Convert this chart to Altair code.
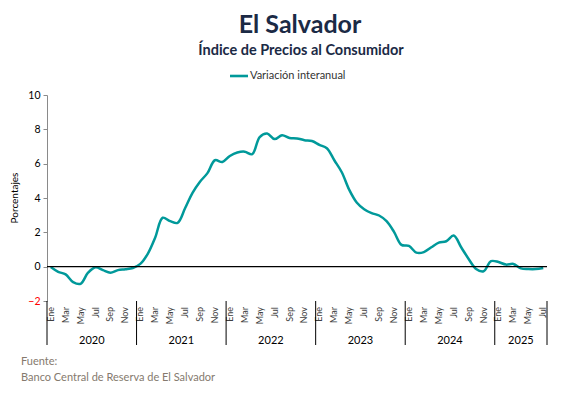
import altair as alt
import pandas as pd

# ---------------- data ----------------
years = [2020, 2021, 2022, 2023, 2024, 2025]
months = ["Ene", "Feb", "Mar", "Abr", "May", "Jun", "Jul", "Ago", "Sep", "Oct", "Nov", "Dic"]
tick_months = ["Ene", "Mar", "May", "Jul", "Sep", "Nov"]

v2020 = [-0.02, -0.30, -0.45, -0.90, -1.00, -0.35, -0.03, -0.20, -0.35, -0.20, -0.15, -0.08]
v2021 = [0.16, 0.75, 1.70, 2.85, 2.65, 2.55, 3.40, 4.30, 4.95, 5.45, 6.20, 6.10]
v2022 = [6.45, 6.65, 6.70, 6.55, 7.55, 7.76, 7.43, 7.66, 7.50, 7.47, 7.37, 7.32]
v2023 = [7.10, 6.90, 6.20, 5.50, 4.48, 3.74, 3.35, 3.12, 2.98, 2.65, 2.03, 1.27]
v2024 = [1.21, 0.82, 0.85, 1.13, 1.40, 1.48, 1.81, 1.13, 0.45, -0.13, -0.27, 0.32]
v2025 = [0.27, 0.12, 0.16, -0.10, -0.14, -0.14, -0.08]

series_name = "Variación interanual"
y_ticks = [-2, 0, 2, 4, 6, 8, 10]

# ---------------- tables ----------------
all_vals = v2020 + v2021 + v2022 + v2023 + v2024 + v2025
rows = []
for i, v in enumerate(all_vals):
    rows.append({"idx": i, "year": years[i // 12], "month": months[i % 12], "value": v})
df = pd.DataFrame(rows)
n = len(df)

lab = df[df["month"].isin(tick_months)][["idx", "month"]]

yr_rows = []
for k, y in enumerate(years):
    first = k * 12
    last = min(first + 11, n - 1)
    yr_rows.append({"year": str(y), "center": (first + last) / 2})
yr_df = pd.DataFrame(yr_rows)

sep_df = pd.DataFrame({"b": [k * 12 - 0.5 for k in range(len(years))] + [n - 0.5]})

W, H = 500, 206
FONT = "Lato"
TEAL = "#00999a"

xscale = alt.Scale(domain=[-0.5, n - 0.5], nice=False, zero=False)
yscale = alt.Scale(domain=[-2, 10], nice=False)

yaxis = alt.Axis(
    values=y_ticks,
    tickCount=len(y_ticks),
    title=None,
    grid=False,
    labelOverlap=False,
    domainColor="#8a8a8a",
    tickColor="#8a8a8a",
    tickSize=4,
    labelPadding=3,
    labelFont=FONT,
    labelFontSize=10.5,
    labelColor={"condition": {"test": "datum.value < 0", "value": "#ff0000"}, "value": "#000000"},
)

line = alt.Chart(df).mark_line(color=TEAL, strokeWidth=2.5, interpolate="catmull-rom").encode(
    x=alt.X("idx:Q", scale=xscale, axis=None),
    y=alt.Y("value:Q", scale=yscale, axis=yaxis),
)

zero = alt.Chart(pd.DataFrame({"value": [0]})).mark_rule(color="#000000", strokeWidth=1.3).encode(
    y=alt.Y("value:Q", scale=yscale, axis=yaxis)
)

month_txt = alt.Chart(lab).mark_text(
    angle=270, align="right", baseline="middle", font=FONT, fontSize=9, color="#404040"
).encode(x=alt.X("idx:Q", scale=xscale, axis=None), y=alt.value(H + 6), text="month:N")

year_txt = alt.Chart(yr_df).mark_text(
    align="center", baseline="alphabetic", font=FONT, fontSize=11, color="#000000"
).encode(x=alt.X("center:Q", scale=xscale, axis=None), y=alt.value(H + 43), text="year:N")

seps = alt.Chart(sep_df).mark_rule(color="#000000", strokeWidth=1).encode(
    x=alt.X("b:Q", scale=xscale, axis=None), y=alt.value(H), y2=alt.value(H + 44)
)

deco = pd.DataFrame({"t": [0]})
title = alt.Chart(deco).mark_text(
    text="El Salvador", font=FONT, fontSize=25, fontWeight="bold", color="#1b2a45", align="center"
).encode(x=alt.value(253), y=alt.value(-70))
subtitle = alt.Chart(deco).mark_text(
    text="Índice de Precios al Consumidor", font=FONT, fontSize=14.5, fontWeight="bold",
    color="#1b2a45", align="center"
).encode(x=alt.value(254), y=alt.value(-44))
leg_line = alt.Chart(deco).mark_rule(color=TEAL, strokeWidth=2.6).encode(
    x=alt.value(183), x2=alt.value(201), y=alt.value(-19)
)
leg_txt = alt.Chart(deco).mark_text(
    text=series_name, font=FONT, fontSize=11, color="#333333", align="left", baseline="middle"
).encode(x=alt.value(203), y=alt.value(-19))
ytitle = alt.Chart(deco).mark_text(
    text="Porcentajes", font=FONT, fontSize=10, color="#000000", angle=270,
    align="center", baseline="middle"
).encode(x=alt.value(-32), y=alt.value(103))
foot1 = alt.Chart(deco).mark_text(
    text="Fuente:", font=FONT, fontSize=11, color="#857a6e", align="left", baseline="middle"
).encode(x=alt.value(-26), y=alt.value(267))
foot2 = alt.Chart(deco).mark_text(
    text="Banco Central de Reserva de El Salvador", font=FONT, fontSize=11, color="#857a6e",
    align="left", baseline="middle"
).encode(x=alt.value(-26), y=alt.value(283))

chart = alt.layer(
    line, zero, month_txt, year_txt, seps, title, subtitle, leg_line, leg_txt, ytitle, foot1, foot2
).properties(
    width=W, height=H,
    autosize=alt.AutoSizeParams(type="none"),
    padding={"left": 39, "top": 87, "right": 25, "bottom": 86},
).configure_view(stroke=None)

chart.save("out.html", embed_options={"renderer": "svg", "actions": False})
